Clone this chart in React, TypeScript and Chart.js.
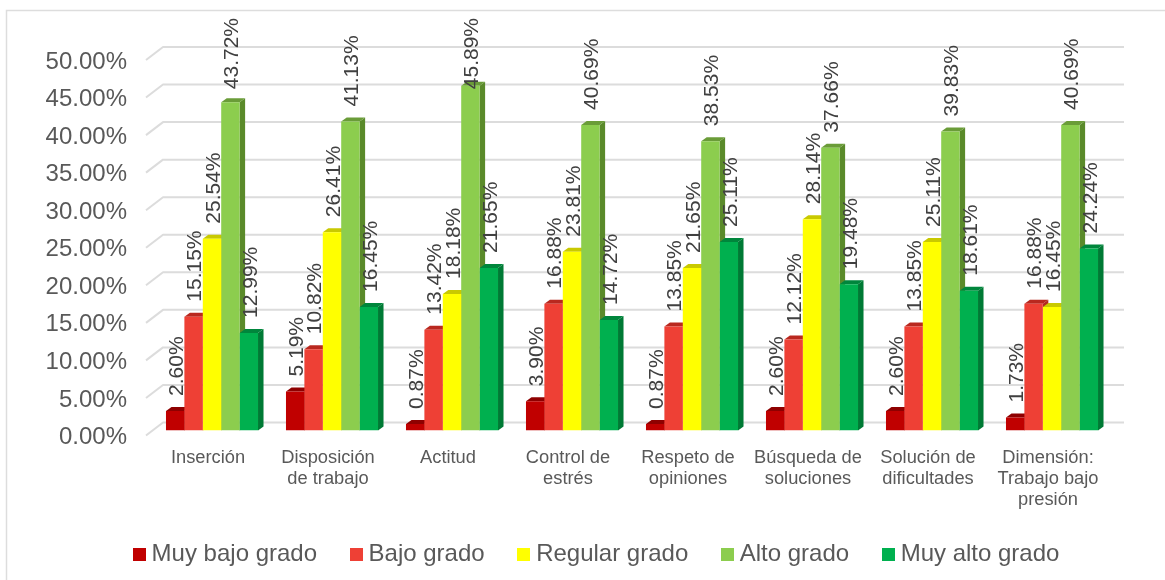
import React, { useEffect, useRef } from "react";
import { Chart, registerables } from "chart.js";

Chart.register(...registerables);

const FONT = "'Liberation Sans', Arial, sans-serif";

const categories = [
  "Inserción",
  ["Disposición", "de trabajo"],
  "Actitud",
  ["Control de", "estrés"],
  ["Respeto de", "opiniones"],
  ["Búsqueda de", "soluciones"],
  ["Solución de", "dificultades"],
  ["Dimensión:", "Trabajo bajo", "presión"],
];
const muyBajo = [2.6, 5.19, 0.87, 3.9, 0.87, 2.6, 2.6, 1.73];
const bajo = [15.15, 10.82, 13.42, 16.88, 13.85, 12.12, 13.85, 16.88];
const regular = [25.54, 26.41, 18.18, 23.81, 21.65, 28.14, 25.11, 16.45];
const alto = [43.72, 41.13, 45.89, 40.69, 38.53, 37.66, 39.83, 40.69];
const muyAlto = [12.99, 16.45, 21.65, 14.72, 25.11, 19.48, 18.61, 24.24];

const seriesNames = ["Muy bajo grado", "Bajo grado", "Regular grado", "Alto grado", "Muy alto grado"];
const seriesValues = [muyBajo, bajo, regular, alto, muyAlto];
const frontColors = ["#C00000", "#EE4035", "#FFFF00", "#8CCD4E", "#00B04F"];
const topColors = ["#8E0000", "#B9281F", "#C9C900", "#6A9C38", "#00863C"];
const sideColors = ["#8A0000", "#B32A20", "#BDBD00", "#5A8A2A", "#007A35"];

const depthX = 5.5;
const depthY = 4;

function swatch(color: string) {
  const c = document.createElement("canvas");
  c.width = 13;
  c.height = 13;
  const g = c.getContext("2d")!;
  g.fillStyle = color;
  g.fillRect(0, 0, 13, 13);
  return c;
}

const frame3d = {
  id: "frame3d",
  afterLayout(chart: any) {
    chart.legend.left += 43;
    chart.legend.right += 43;
    chart.legend.top -= 4;
    chart.legend.bottom -= 4;
    chart.scales.x.bottom += 12;
  },
  beforeDraw(chart: any) {
    const { ctx } = chart;
    ctx.save();
    ctx.fillStyle = "#fff";
    ctx.fillRect(0, 0, chart.width, chart.height);
    ctx.strokeStyle = "#DDDDDD";
    ctx.lineWidth = 1.5;
    ctx.beginPath();
    ctx.moveTo(6.5, 580);
    ctx.lineTo(6.5, 10.5);
    ctx.lineTo(1165, 10.5);
    ctx.stroke();
    ctx.restore();
  },
  beforeDatasetsDraw(chart: any) {
    const { ctx, scales } = chart;
    const y = scales.y;
    const left = chart.chartArea.left;
    const right = chart.chartArea.right;
    ctx.save();
    ctx.strokeStyle = "#DCDCDC";
    ctx.lineWidth = 2;
    ctx.lineJoin = "round";
    y.ticks.forEach((t: any) => {
      const p = y.getPixelForValue(t.value);
      ctx.beginPath();
      ctx.moveTo(left - 6, p + 5);
      ctx.lineTo(left + 11, p - 8);
      ctx.lineTo(right + 12, p - 8);
      ctx.stroke();
    });
    chart.data.datasets.forEach((_: any, i: number) => {
      const meta = chart.getDatasetMeta(i);
      meta.data.forEach((el: any) => {
        const l = el.x - el.width / 2;
        const r = el.x + el.width / 2;
        const t = el.y;
        const b = el.base;
        ctx.fillStyle = sideColors[i];
        ctx.beginPath();
        ctx.moveTo(r, t);
        ctx.lineTo(r + depthX, t - depthY);
        ctx.lineTo(r + depthX, b - depthY);
        ctx.lineTo(r, b);
        ctx.closePath();
        ctx.fill();
        ctx.fillStyle = topColors[i];
        ctx.beginPath();
        ctx.moveTo(l, t);
        ctx.lineTo(l + depthX, t - depthY);
        ctx.lineTo(r + depthX, t - depthY);
        ctx.lineTo(r, t);
        ctx.closePath();
        ctx.fill();
      });
    });
    ctx.restore();
  },
  afterDatasetsDraw(chart: any) {
    const { ctx } = chart;
    ctx.save();
    ctx.font = `21px ${FONT}`;
    ctx.fillStyle = "#404040";
    ctx.textAlign = "left";
    ctx.textBaseline = "middle";
    chart.data.datasets.forEach((ds: any, i: number) => {
      chart.getDatasetMeta(i).data.forEach((el: any, j: number) => {
        const text = ds.data[j].toFixed(2) + "%";
        const w = ctx.measureText(text).width;
        let bottom = el.y - 15;
        if (bottom - w < 18) bottom = 18 + w;
        ctx.save();
        ctx.translate(el.x + 2, bottom);
        ctx.rotate(-Math.PI / 2);
        ctx.fillText(text, 0, 0);
        ctx.restore();
      });
    });
    ctx.restore();
  },
};

export default function App() {
  const ref = useRef<HTMLCanvasElement>(null);

  useEffect(() => {
    document.body.style.margin = "0";
    document.body.style.background = "#fff";
    const chart = new Chart(ref.current!, {
      type: "bar",
      data: {
        labels: categories as any,
        datasets: seriesNames.map((label, i) => ({
          label,
          data: seriesValues[i],
          backgroundColor: frontColors[i],
          borderWidth: 0,
          categoryPercentage: 0.767,
          barPercentage: 1,
        })),
      },
      options: {
        responsive: false,
        animation: false,
        layout: { padding: { left: 0, right: 53, top: 55, bottom: 0 } },
        plugins: {
          title: { display: false },
          tooltip: { enabled: false },
          legend: {
            display: true,
            position: "bottom",
            labels: {
              usePointStyle: true,
              pointStyleWidth: 1,
              padding: 38.5,
              color: "#595959",
              font: { family: FONT, size: 24 },
              generateLabels(c: any) {
                const items = (Chart.defaults.plugins.legend.labels as any).generateLabels(c);
                items.forEach((it: any, i: number) => {
                  it.pointStyle = swatch(frontColors[i]);
                });
                return items;
              },
            },
          },
        },
        scales: {
          x: {
            type: "category",
            grid: { display: false, drawTicks: false },
            border: { display: false },
            afterFit(s: any) {
              s.height = 77;
            },
            ticks: {
              color: "#595959",
              font: { family: FONT, size: 18.3, lineHeight: 21 / 18.3 },
              padding: 17,
              labelOffset: -4,
              maxRotation: 0,
              minRotation: 0,
              autoSkip: false,
            },
          },
          y: {
            type: "linear",
            min: 0,
            max: 50,
            grid: { display: false, drawTicks: false },
            border: { display: false },
            afterFit(s: any) {
              s.width = 152;
            },
            ticks: {
              stepSize: 5,
              color: "#595959",
              font: { family: FONT, size: 24 },
              padding: 25,
              labelOffset: 7,
              callback: (v: any) => Number(v).toFixed(2) + "%",
            },
          },
        },
      } as any,
      plugins: [frame3d],
    });
    return () => chart.destroy();
  }, []);

  return (
    <div style={{ width: 1165, height: 580 }}>
      <canvas ref={ref} width={1165} height={580} style={{ display: "block" }} />
    </div>
  );
}
